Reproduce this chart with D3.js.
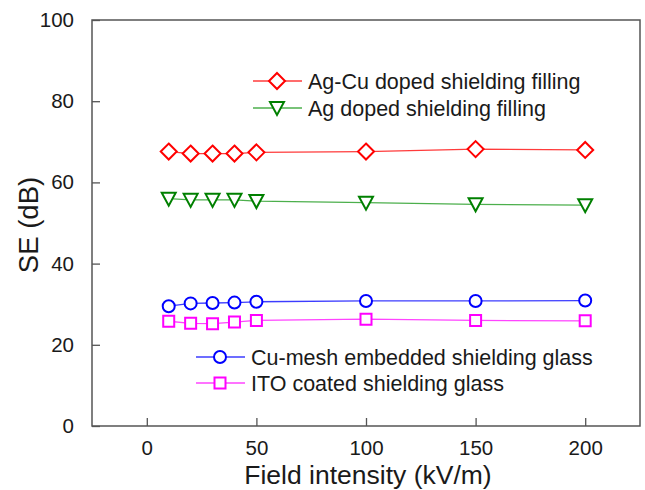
<!DOCTYPE html>
<html>
<head>
<meta charset="utf-8">
<script src="https://cdn.jsdelivr.net/npm/d3@7"></script>
<style>
  html, body { margin: 0; padding: 0; background: #fff; }
  svg { display: block; font-family: "Liberation Sans", Arial, sans-serif; }
</style>
</head>
<body>
<svg id="chart" width="645" height="490"></svg>
<script>
// Field intensity (kV/m) at which shielding effectiveness was measured
const fieldIntensity = [10, 20, 30, 40, 50, 100, 150, 200];

// Shielding effectiveness (dB) per sample
const agCuFilling   = [67.6, 67.1, 67.1, 67.1, 67.4, 67.6, 68.2, 68.0];
const agFilling     = [56.0, 55.7, 55.7, 55.7, 55.4, 55.0, 54.6, 54.4];
const cuMeshGlass   = [29.5, 30.2, 30.3, 30.4, 30.6, 30.8, 30.8, 30.9];
const itoGlass      = [25.8, 25.3, 25.2, 25.6, 26.0, 26.3, 26.0, 25.9];

const seriesNames = [
  "Ag-Cu doped shielding filling",
  "Ag doped shielding filling",
  "Cu-mesh embedded shielding glass",
  "ITO coated shielding glass"
];

const xTicks = [0, 50, 100, 150, 200];
const yTicks = [0, 20, 40, 60, 80, 100];

const series = [
  { name: seriesNames[0], values: agCuFilling, color: "#ff0000", line: "#ff3b3b", shape: "diamond" },
  { name: seriesNames[1], values: agFilling,   color: "#008000", line: "#4caf4c", shape: "triangleDown" },
  { name: seriesNames[2], values: cuMeshGlass, color: "#0000ff", line: "#3c3cff", shape: "circle" },
  { name: seriesNames[3], values: itoGlass,    color: "#ff00ff", line: "#ff44ff", shape: "square" }
];

const svg = d3.select("#chart");
const plot = { left: 92, right: 640, top: 20, bottom: 426 };

const x = d3.scaleLinear().domain([-25, 225]).range([plot.left, plot.right]);
const y = d3.scaleLinear().domain([0, 100]).range([plot.bottom, plot.top]);

const axisColor = "#555";
const textColor = "#1a1a1a";

// Frame
svg.append("rect")
  .attr("x", plot.left).attr("y", plot.top)
  .attr("width", plot.right - plot.left).attr("height", plot.bottom - plot.top)
  .attr("fill", "none").attr("stroke", axisColor).attr("stroke-width", 1.5);

// Bottom axis: inward ticks
const xAxis = svg.append("g")
  .attr("transform", `translate(0,${plot.bottom})`)
  .call(d3.axisBottom(x).tickValues(xTicks).tickSize(-8).tickPadding(14).tickFormat(d3.format("d")));
xAxis.select(".domain").remove();
xAxis.selectAll(".tick line").attr("stroke", axisColor).attr("stroke-width", 1.3);
xAxis.selectAll(".tick text")
  .attr("font-size", 20.5).attr("fill", textColor)
  .attr("font-family", "Liberation Sans, Arial, sans-serif");

// Left axis: inward ticks
const yAxis = svg.append("g")
  .attr("transform", `translate(${plot.left},0)`)
  .call(d3.axisLeft(y).tickValues(yTicks).tickSize(-8).tickPadding(18).tickFormat(d3.format("d")));
yAxis.select(".domain").remove();
yAxis.selectAll(".tick line").attr("stroke", axisColor).attr("stroke-width", 1.3);
yAxis.selectAll(".tick text")
  .attr("font-size", 20.5).attr("fill", textColor)
  .attr("font-family", "Liberation Sans, Arial, sans-serif");

// Axis titles
svg.append("text")
  .attr("x", (plot.left + plot.right) / 2 + 2).attr("y", 484)
  .attr("text-anchor", "middle").attr("font-size", 26.5).attr("fill", textColor)
  .text("Field intensity (kV/m)");

svg.append("text")
  .attr("transform", `translate(38,${(plot.top + plot.bottom) / 2 + 2}) rotate(-90)`)
  .attr("text-anchor", "middle").attr("font-size", 27.5).attr("fill", textColor)
  .text("SE (dB)");

// Marker shapes, centred on (0,0)
function markerPath(shape) {
  switch (shape) {
    case "diamond": return "M0,-8 L8,0 L0,8 L-8,0 Z";
    case "triangleDown": return "M-7,-6 L7,-6 L0,7 Z";
    case "circle": return d3.arc()({ innerRadius: 0, outerRadius: 6, startAngle: 0, endAngle: 2 * Math.PI });
    case "square": return "M-5.5,-5.5 L5.5,-5.5 L5.5,5.5 L-5.5,5.5 Z";
  }
}

const line = d3.line().x(d => x(d[0])).y(d => y(d[1]));

series.forEach(s => {
  const pts = fieldIntensity.map((f, i) => [f, s.values[i]]);
  svg.append("path")
    .attr("d", line(pts))
    .attr("fill", "none").attr("stroke", s.line).attr("stroke-width", 1.3);
  svg.append("g").selectAll("path")
    .data(pts).join("path")
    .attr("transform", d => `translate(${x(d[0])},${y(d[1])})`)
    .attr("d", markerPath(s.shape))
    .attr("fill", "#fff").attr("stroke", s.color).attr("stroke-width", 2);
});

// Legends: two groups, upper for fillings, lower for glasses
const legendRows = [
  { s: series[0], x0: 253, y: 81 },
  { s: series[1], x0: 253, y: 108 },
  { s: series[2], x0: 196, y: 357 },
  { s: series[3], x0: 196, y: 383 }
];
legendRows.forEach(r => {
  const g = svg.append("g");
  g.append("line")
    .attr("x1", r.x0).attr("x2", r.x0 + 49).attr("y1", r.y).attr("y2", r.y)
    .attr("stroke", r.s.line).attr("stroke-width", 1.3);
  g.append("path")
    .attr("transform", `translate(${r.x0 + 24},${r.y})`)
    .attr("d", markerPath(r.s.shape))
    .attr("fill", "#fff").attr("stroke", r.s.color).attr("stroke-width", 2);
  g.append("text")
    .attr("x", r.x0 + 55).attr("y", r.y).attr("dy", "0.35em")
    .attr("font-size", 21.5).attr("fill", textColor)
    .text(r.s.name);
});
</script>
</body>
</html>
